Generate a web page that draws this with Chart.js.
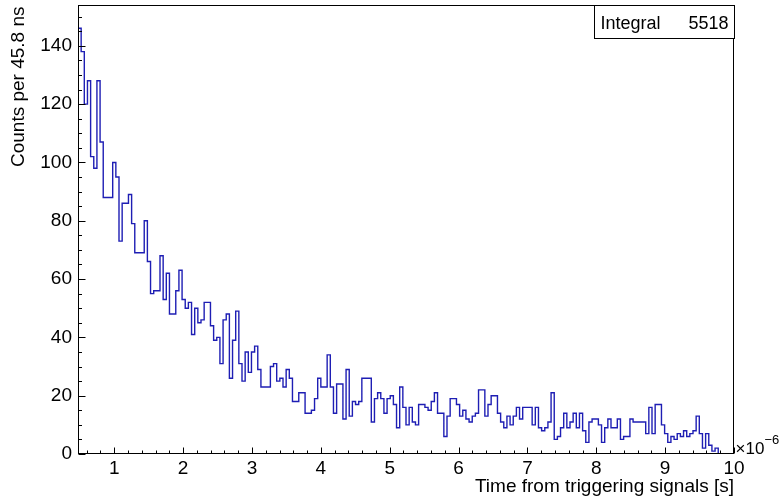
<!doctype html>
<html lang="en">
<head>
<meta charset="utf-8">
<script src="https://cdn.jsdelivr.net/npm/chart.js"></script>
<style>
  html, body { margin: 0; padding: 0; background: #fff; }
  #wrap { width: 780px; height: 496px; position: relative; }
</style>
</head>
<body>
<div id="wrap">
  <canvas id="myChart"></canvas>
</div>

<script>
  // histogram: bin lower edge of first bin and bin width, both in microseconds
  const binStart = 0.4736;
  const binWidth = 0.0458;
  const xMax = 10;
  const yMax = 154;

  // counts per bin
  const counts = [
    146, 138, 120, 128, 102, 98, 128, 107, 88, 88, 88, 100, 95, 73, 86, 86, 89, 79, 69, 69,
    69, 80, 66, 55, 56, 56, 68, 53, 62, 48, 48, 56, 63, 53, 50, 52, 41, 50, 45, 46,
    52, 52, 44, 39, 40, 31, 46, 48, 26, 39, 49, 31, 25, 35, 28, 35, 37, 29, 23, 23,
    23, 30, 31, 25, 26, 23, 29, 26, 18, 18, 21, 21, 14, 14, 15, 19, 26, 23, 23, 34,
    23, 14, 24, 24, 12, 29, 13, 18, 17, 18, 26, 26, 26, 11, 19, 21, 19, 14, 19, 20,
    17, 9, 23, 16, 10, 16, 11, 10, 17, 17, 16, 15, 18, 21, 14, 14, 6, 13, 19, 19,
    17, 13, 15, 12, 11, 13, 14, 22, 22, 13, 17, 20, 20, 14, 11, 9, 13, 10, 13, 16,
    12, 16, 16, 16, 10, 16, 9, 8, 9, 11, 21, 5, 6, 9, 14, 9, 11, 14, 9, 14,
    8, 4, 11, 12, 12, 10, 4, 9, 12, 9, 9, 12, 5, 6, 6, 12, 11, 11, 11, 11,
    7, 16, 7, 17, 17, 10, 7, 4, 6, 5, 7, 6, 8, 6, 7, 8, 13, 7, 2, 7,
    3, 1, 2, 0, 0, 0, 0, 0
  ];

  const xTicks = [1, 2, 3, 4, 5, 6, 7, 8, 9, 10];
  const yTicks = [0, 20, 40, 60, 80, 100, 120, 140];

  const xTitle = 'Time from triggering signals [s]';
  const yTitle = 'Counts per 45.8 ns';
  const statLabel = 'Integral';
  const statValue = '5518';

  const FONT = '"Liberation Sans", Arial, Helvetica, sans-serif';

  // step points at bin lower edges, plus the closing upper edge
  const points = counts.map((c, i) => ({ x: binStart + i * binWidth, y: c }));
  points.push({ x: binStart + counts.length * binWidth, y: counts[counts.length - 1] });

  // ROOT-like frame, inward ticks, titles and stats box
  const rootDecor = {
    id: 'rootDecor',
    afterDraw(chart) {
      const ctx = chart.ctx;
      const a = chart.chartArea;
      const xs = chart.scales.x, ys = chart.scales.y;
      const L = Math.round(a.left) + 0.5, R = Math.round(a.right) - 0.5;
      const T = Math.round(a.top) + 0.5, B = Math.round(a.bottom) - 0.5;
      ctx.save();
      ctx.strokeStyle = '#000';
      ctx.lineWidth = 1;
      ctx.strokeRect(L, T, R - L, B - T);

      ctx.beginPath();
      for (let k = 1; k <= 50; k++) {
        const v = k * 0.2;
        if (v < xs.min || v > xs.max) continue;
        const px = Math.round(xs.getPixelForValue(v)) + 0.5;
        const len = (k % 5 === 0) ? 6 : 3;
        ctx.moveTo(px, B);
        ctx.lineTo(px, B - len);
      }
      for (let k = 0; k <= 30; k++) {
        const v = k * 5;
        if (v > ys.max) continue;
        const py = Math.round(ys.getPixelForValue(v)) + 0.5;
        const len = (k % 4 === 0) ? 7 : 3.5;
        ctx.moveTo(L, py);
        ctx.lineTo(L + len, py);
      }
      ctx.stroke();

      ctx.fillStyle = '#000';
      ctx.font = '19px ' + FONT;
      ctx.textAlign = 'right';
      ctx.textBaseline = 'alphabetic';
      ctx.fillText(xTitle, R + 0.5, 492);

      ctx.save();
      ctx.translate(24, T);
      ctx.rotate(-Math.PI / 2);
      ctx.textAlign = 'right';
      ctx.fillText(yTitle, -1, 0);
      ctx.restore();

      // exponent of the x axis
      ctx.textAlign = 'left';
      ctx.font = '17px ' + FONT;
      ctx.fillText('\u00d710', R + 2, B);
      ctx.font = '13px ' + FONT;
      ctx.fillText('\u22126', R + 31, B - 10);

      // stats box
      const bx = 594.5, by = T, bw = 140, bh = 33;
      ctx.fillStyle = '#fff';
      ctx.fillRect(bx, by, bw, bh);
      ctx.strokeRect(bx, by, bw, bh);
      ctx.fillStyle = '#000';
      ctx.font = '18px ' + FONT;
      ctx.textAlign = 'left';
      ctx.fillText(statLabel, bx + 6, by + 23);
      ctx.textAlign = 'right';
      ctx.fillText(statValue, bx + bw - 6, by + 23);
      ctx.restore();
    }
  };

  const canvas = document.getElementById('myChart');
  const chart = new Chart(canvas, {
    type: 'line',
    data: {
      datasets: [{
        data: points,
        stepped: 'before',
        borderColor: '#1e1eb4',
        borderWidth: 1.4,
        pointRadius: 0,
        fill: false,
        tension: 0
      }]
    },
    options: {
      responsive: true,
      maintainAspectRatio: false,
      animation: false,
      layout: { padding: { top: 5, right: 46, left: 0, bottom: 0 } },
      plugins: {
        legend: { display: false },
        tooltip: { enabled: false }
      },
      scales: {
        x: {
          type: 'linear',
          min: binStart,
          max: xMax,
          grid: { display: false, drawTicks: false },
          border: { display: false },
          ticks: {
            color: '#000',
            font: { family: FONT, size: 19 },
            padding: 3,
            maxRotation: 0,
            autoSkip: false
          },
          afterBuildTicks: (s) => { s.ticks = xTicks.map(v => ({ value: v })); },
          afterFit: (s) => {
            s.height = 42;
            s.paddingLeft = 0; s.paddingRight = 0;
          }
        },
        y: {
          min: 0,
          max: yMax,
          grid: { display: false, drawTicks: false },
          border: { display: false },
          ticks: {
            color: '#000',
            font: { family: FONT, size: 19 },
            padding: 6
          },
          afterBuildTicks: (s) => { s.ticks = yTicks.map(v => ({ value: v })); },
          afterFit: (s) => {
            s.width = 78;
            s.paddingTop = 0; s.paddingBottom = 0;
          }
        }
      }
    },
    plugins: [rootDecor]
  });
</script>
</body>
</html>
